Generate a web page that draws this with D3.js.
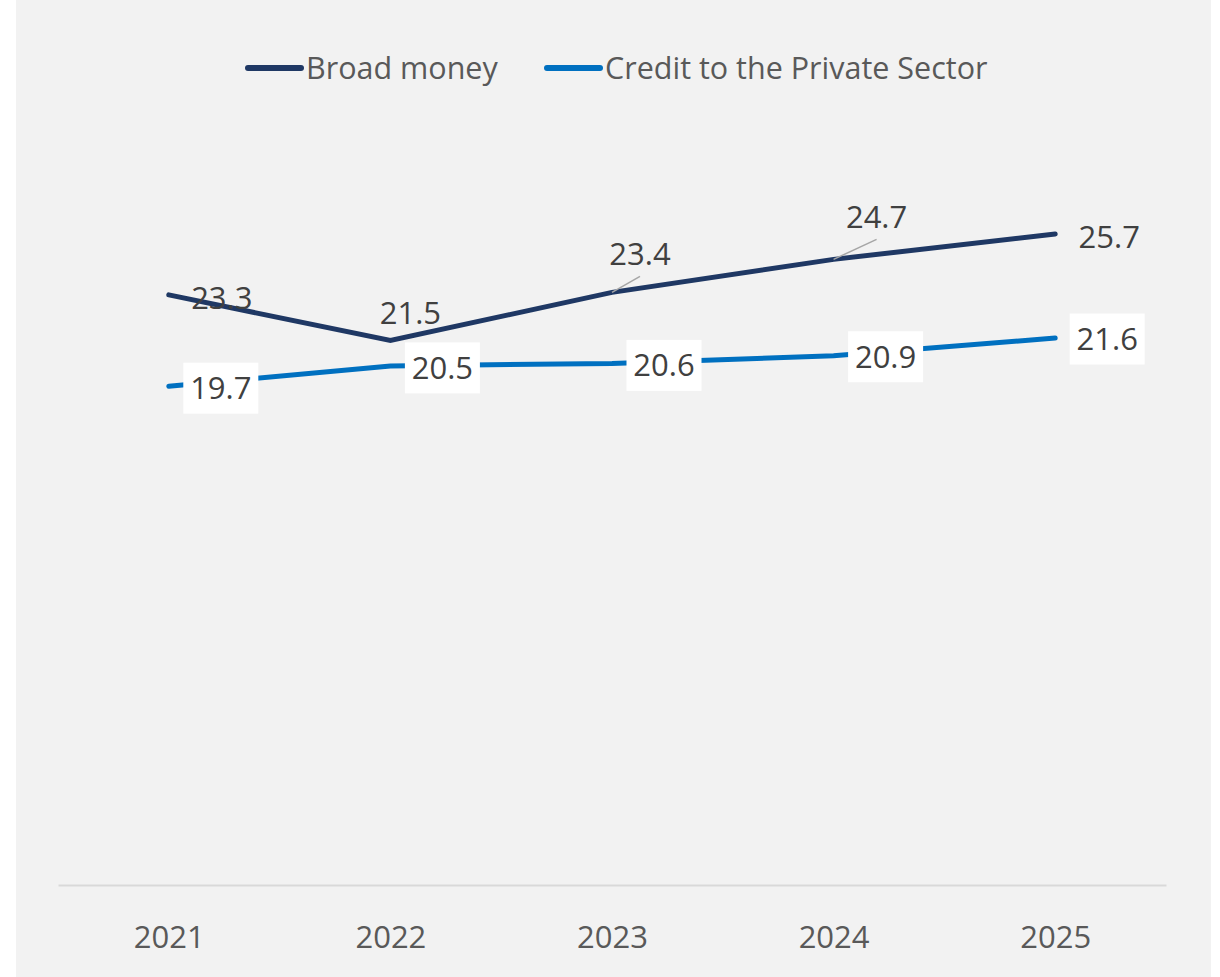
<!DOCTYPE html>
<html>
<head>
<meta charset="utf-8">
<script src="https://cdn.jsdelivr.net/npm/d3@7"></script>
<style>
  html, body { margin: 0; padding: 0; background: #ffffff; }
  svg { display: block; }
  text { font-family: "Open Sans", "Noto Sans", sans-serif; }
</style>
</head>
<body>
<svg id="chart" width="1220" height="977"></svg>
<script>
// Growth figures, per cent
const years = ["2021", "2022", "2023", "2024", "2025"];
const broadMoney = [23.3, 21.5, 23.4, 24.7, 25.7];
const creditPrivate = [19.7, 20.5, 20.6, 20.9, 21.6];
const seriesNames = ["Broad money", "Credit to the Private Sector"];

// Label placement relative to each point (px)
const broadLabelOffset = [[53, 3], [20, -28], [28, -38], [43, -42], [54, 3]];
const broadLeader = [null, null, true, true, null];
const creditLabelOffset = [[52, 2], [52, 2], [52, 2], [52, 1], [52, 1]];

const colors = ["#1f3864", "#0070c0"];

const svg = d3.select("#chart");

// Panel background
svg.append("rect")
  .attr("x", 16).attr("y", 0)
  .attr("width", 1195).attr("height", 977)
  .attr("fill", "#f2f2f2");

const x = d3.scalePoint().domain(years).range([58, 1166]).padding(0.5);
const y = d3.scaleLinear().domain([0, 30]).range([886, 124.9]);

// Category axis
const xAxis = svg.append("g")
  .attr("transform", "translate(0,885)")
  .call(d3.axisBottom(x).tickSize(0).tickPadding(0));
xAxis.select(".domain").attr("stroke", "#d9d9d9").attr("stroke-width", 2);
xAxis.selectAll(".tick text")
  .attr("y", 63).attr("dy", 0)
  .attr("fill", "#595959")
  .style("font-size", "31px")
  .style("font-family", "'Open Sans', sans-serif");

const line = d3.line()
  .x((d, i) => x(years[i]))
  .y(d => y(d));

[broadMoney, creditPrivate].forEach((vals, s) => {
  svg.append("path")
    .datum(vals)
    .attr("d", line)
    .attr("fill", "none")
    .attr("stroke", colors[s])
    .attr("stroke-width", 5)
    .attr("stroke-linecap", "round")
    .attr("stroke-linejoin", "miter");
});

// Broad money labels with leader lines
const fs = 31;
broadMoney.forEach((v, i) => {
  const px = x(years[i]), py = y(v);
  const [dx, dy] = broadLabelOffset[i];
  if (broadLeader[i]) {
    svg.append("line")
      .attr("x1", px).attr("y1", py)
      .attr("x2", px + dx).attr("y2", py + dy + 22)
      .attr("stroke", "#a6a6a6").attr("stroke-width", 1.5);
  }
  svg.append("text")
    .attr("x", px + dx).attr("y", py + dy + fs * 0.357)
    .attr("text-anchor", "middle")
    .attr("fill", "#404040")
    .style("font-size", fs + "px")
    .text(v.toFixed(1));
});

// Credit labels on white boxes
creditPrivate.forEach((v, i) => {
  const px = x(years[i]), py = y(v);
  const [dx, dy] = creditLabelOffset[i];
  const cx = px + dx, cy = py + dy;
  svg.append("rect")
    .attr("x", cx - 37.5).attr("y", cy - 25.5)
    .attr("width", 75).attr("height", 51)
    .attr("fill", "#ffffff");
  svg.append("text")
    .attr("x", cx).attr("y", cy + fs * 0.357)
    .attr("text-anchor", "middle")
    .attr("fill", "#404040")
    .style("font-size", fs + "px")
    .text(v.toFixed(1));
});

// Legend
const legendItems = [
  { x: 246, name: seriesNames[0], color: colors[0] },
  { x: 545, name: seriesNames[1], color: colors[1] }
];
const legend = svg.append("g");
legendItems.forEach(item => {
  legend.append("line")
    .attr("x1", item.x + 2).attr("x2", item.x + 55)
    .attr("y1", 68).attr("y2", 68)
    .attr("stroke", item.color).attr("stroke-width", 6)
    .attr("stroke-linecap", "round");
  legend.append("text")
    .attr("x", item.x + 60).attr("y", 79)
    .attr("fill", "#595959")
    .style("font-size", "30.5px")
    .text(item.name);
});
</script>
</body>
</html>
